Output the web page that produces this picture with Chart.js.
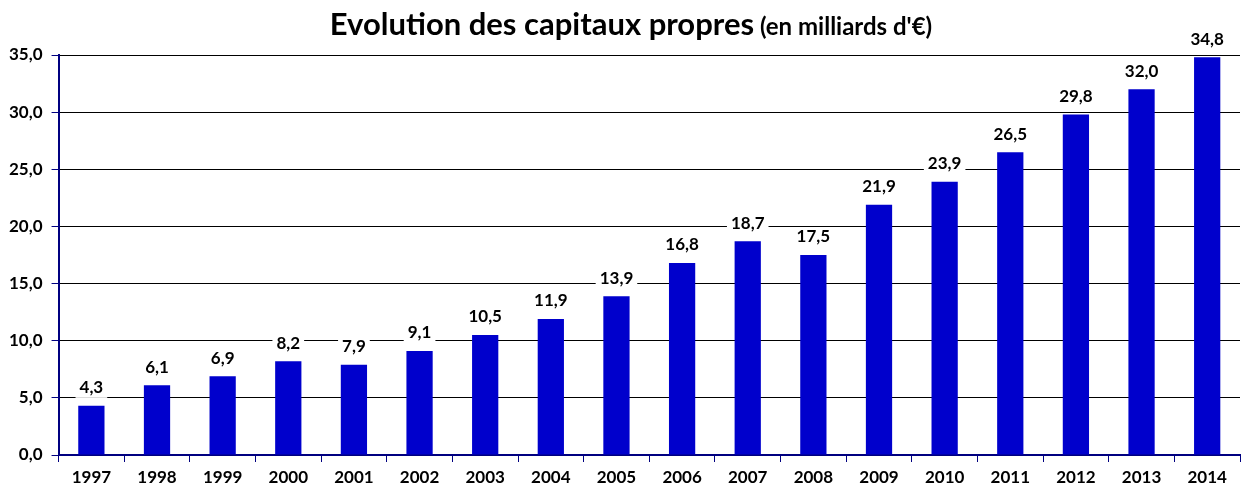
<!DOCTYPE html>
<html><head><meta charset="utf-8">
<script src="https://cdn.jsdelivr.net/npm/chart.js@4"></script>
<style>html,body{margin:0;padding:0;background:#fff}#c{display:block}</style>
</head><body>
<canvas id="c" width="1245" height="486"></canvas>
<script>
const categories = ['1997','1998','1999','2000','2001','2002','2003','2004','2005','2006','2007','2008','2009','2010','2011','2012','2013','2014'];
const capitaux = [4.3,6.1,6.9,8.2,7.9,9.1,10.5,11.9,13.9,16.8,18.7,17.5,21.9,23.9,26.5,29.8,32.0,34.8];
const titleMain = 'Evolution des capitaux propres';
const titleSub = ' (en milliards d\'€)';
const FONT = 'Lato, "Open Sans", sans-serif';
const fmt = v => v.toFixed(1).replace('.', ',');

const titlePlugin = {
  id: 'titlePlugin',
  afterDraw(chart) {
    const ctx = chart.ctx;
    ctx.save();
    ctx.fillStyle = '#000';
    ctx.textBaseline = 'alphabetic';
    ctx.font = 'bold 31px ' + FONT;
    const w1 = ctx.measureText(titleMain).width;
    ctx.font = 'bold 24px ' + FONT;
    const w2 = ctx.measureText(titleSub).width;
    const x0 = 631 - (w1 + w2) / 2;
    ctx.font = 'bold 31px ' + FONT;
    ctx.textAlign = 'left';
    ctx.fillText(titleMain, x0, 35);
    ctx.font = 'bold 24px ' + FONT;
    ctx.fillText(titleSub, x0 + w1, 35);
    ctx.restore();
  }
};

const labelPlugin = {
  id: 'labelPlugin',
  afterDatasetsDraw(chart) {
    const ctx = chart.ctx;
    const meta = chart.getDatasetMeta(0);
    ctx.save();
    ctx.font = 'bold 17px ' + FONT;
    ctx.textAlign = 'center';
    ctx.textBaseline = 'middle';
    meta.data.forEach((bar, i) => {
      const t = fmt(capitaux[i]);
      const w = ctx.measureText(t).width + 8;
      const y = bar.y - 18;
      ctx.fillStyle = '#fff';
      ctx.fillRect(bar.x - w / 2, y - 10, w, 20);
      ctx.fillStyle = '#000';
      ctx.fillText(t, bar.x, y);
    });
    ctx.restore();
  }
};

new Chart(document.getElementById('c'), {
  type: 'bar',
  data: {
    labels: categories,
    datasets: [{
      data: capitaux,
      backgroundColor: '#0000CC',
      borderWidth: 0,
      barPercentage: 0.4,
      categoryPercentage: 1.0
    }]
  },
  options: {
    responsive: false,
    animation: false,
    devicePixelRatio: 1,
    layout: { padding: { top: 55, right: 5, left: 0, bottom: 0 } },
    plugins: { legend: { display: false }, title: { display: false }, tooltip: { enabled: false } },
    scales: {
      x: {
        afterFit: s => { s.height = 31; },
        grid: { offset: true, drawOnChartArea: false, drawTicks: true, tickLength: 7, color: '#000080' },
        border: { color: '#000080', width: 2 },
        ticks: { color: '#000', font: { family: FONT, weight: 'bold', size: 17, lineHeight: 1.0 }, padding: 7, maxRotation: 0 }
      },
      y: {
        min: 0, max: 35,
        grid: { color: '#000', lineWidth: 1, drawTicks: true, tickLength: 7, tickColor: '#000080' },
        border: { color: '#000080', width: 2 },
        ticks: { stepSize: 5, color: '#000', font: { family: FONT, weight: 'bold', size: 17 }, padding: 9, callback: v => fmt(v) }
      }
    }
  },
  plugins: [titlePlugin, labelPlugin]
});
</script>
</body></html>
